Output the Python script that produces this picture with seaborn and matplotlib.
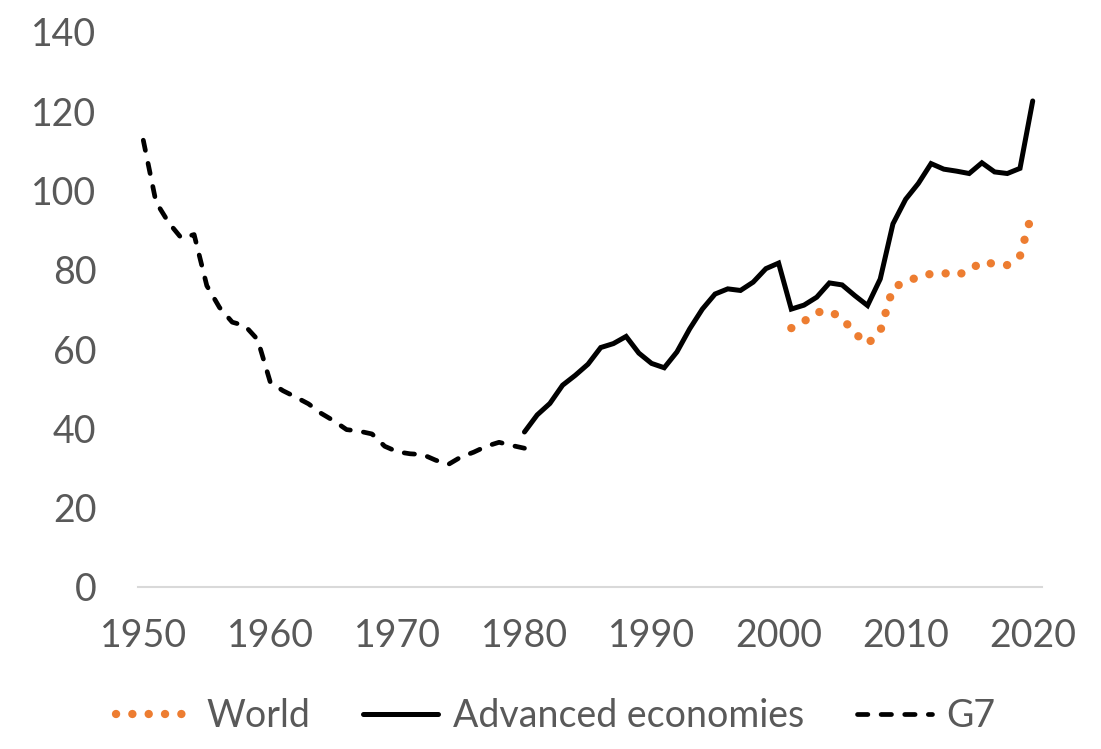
import numpy as np
import pandas as pd
import matplotlib
matplotlib.use("Agg")
import matplotlib.pyplot as plt
import seaborn as sns

# Data
g7_years = list(range(1950, 1981))
g7_values = [112.7, 97.1, 91.9, 88.0, 88.9, 76.0, 70.5, 66.8, 65.9, 62.4,
             51.6, 49.5, 47.9, 46.2, 43.8, 41.9, 39.7, 39.3, 38.6, 35.5,
             34.1, 33.6, 33.4, 32.0, 30.9, 32.8, 34.0, 35.5, 36.5, 35.7, 35.0]

adv_years = list(range(1980, 2021))
adv_values = [39.1, 43.4, 46.3, 50.9, 53.4, 56.2, 60.4, 61.4, 63.2, 59.0,
              56.4, 55.3, 59.3, 65.1, 70.1, 73.9, 75.2, 74.8, 76.9, 80.3,
              81.7, 70.1, 71.1, 73.1, 76.7, 76.2, 73.5, 71.0, 77.7, 91.6,
              97.8, 101.8, 106.8, 105.4, 104.9, 104.3, 107.0, 104.7, 104.3, 105.6,
              122.6]

world_years = list(range(2001, 2021))
world_values = [65.3, 67.0, 69.3, 69.6, 67.8, 64.0, 61.3, 64.5, 75.5, 77.0,
                78.2, 79.0, 79.2, 78.6, 79.9, 82.0, 81.5, 81.2, 83.5, 95.0]

x_ticks = [1950, 1960, 1970, 1980, 1990, 2000, 2010, 2020]
y_ticks = [0, 20, 40, 60, 80, 100, 120, 140]

df_g7 = pd.DataFrame({"year": g7_years, "value": g7_values})
df_adv = pd.DataFrame({"year": adv_years, "value": adv_values})
df_world = pd.DataFrame({"year": world_years, "value": world_values})

sns.set_style("white")
plt.rcParams["font.family"] = ["Lato", "DejaVu Sans"]

text_col = "#595959"
orange = "#ED7D31"

fig = plt.figure(figsize=(11.01, 7.49), dpi=100)
ax = fig.add_axes([0.1253, 0.2163, 0.8211, 0.7410])

sns.lineplot(data=df_world, x="year", y="value", ax=ax, color=orange,
             linewidth=6, linestyle=(0, (0.01, 1.95)),
             dash_capstyle="round", label="World")
sns.lineplot(data=df_adv, x="year", y="value", ax=ax, color="black",
             linewidth=3.6, solid_capstyle="round", solid_joinstyle="miter",
             label="Advanced economies")
sns.lineplot(data=df_g7, x="year", y="value", ax=ax, color="black",
             linewidth=3.4, linestyle=(0, (2.2, 2.8)),
             dash_capstyle="round", label="G7")

ax.set_xlim(1949.58, 2020.73)
ax.set_ylim(0, 140)
ax.set_xticks(x_ticks)
ax.set_yticks(y_ticks)
ax.set_xlabel("")
ax.set_ylabel("")
ax.tick_params(axis="both", length=0, labelsize=27, labelcolor=text_col)
ax.tick_params(axis="x", pad=22)
ax.tick_params(axis="y", pad=30)

for side in ["top", "right", "left"]:
    ax.spines[side].set_visible(False)
ax.spines["bottom"].set_color("#D9D9D9")
ax.spines["bottom"].set_linewidth(1.5)

handles, labels = ax.get_legend_handles_labels()
ax.get_legend().remove()
leg = fig.legend(handles, labels, loc="center", bbox_to_anchor=(0.505, 0.044),
                 ncol=3, frameon=False, fontsize=27, handlelength=2.0,
                 handletextpad=0.4, columnspacing=1.4)
for t in leg.get_texts():
    t.set_color(text_col)

fig.savefig("out.png", dpi=100)
